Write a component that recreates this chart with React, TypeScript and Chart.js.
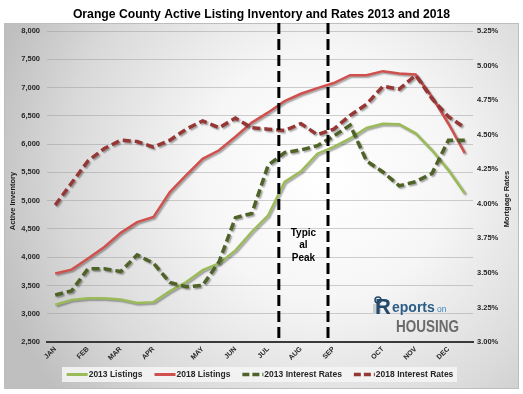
import React, { useEffect, useRef } from 'react';
import { Chart, registerables } from 'chart.js';

Chart.register(...registerables);

const FONT = '"Liberation Sans", Arial, Helvetica, sans-serif';

const TITLE = 'Orange County Active Listing Inventory and Rates 2013 and 2018';
const Y_TITLE = 'Active Inventory';
const Y1_TITLE = 'Mortgage Rates';

// 26 bi-weekly observations, month label on the first observation of each month
const MONTH_LABELS = [
  'JAN', '', 'FEB', '', 'MAR', '', 'APR', '', '', 'MAY', '', 'JUN', '', 'JUL',
  '', 'AUG', '', 'SEP', '', '', 'OCT', '', 'NOV', '', 'DEC', '',
];

const LISTINGS_2013 = [
  3160, 3245, 3275, 3275, 3250, 3190, 3205, 3400, 3560, 3770, 3890, 4120, 4450,
  4740, 5330, 5520, 5830, 5950, 6100, 6285, 6360, 6350, 6190, 5890, 5540, 5125,
];
const LISTINGS_2018 = [
  3710, 3780, 3975, 4180, 4430, 4620, 4710, 5150, 5450, 5740, 5890, 6130, 6380,
  6560, 6760, 6890, 6990, 7080, 7218, 7218, 7290, 7250, 7230, 6835, 6360, 5840,
];
const RATES_2013 = [
  3.34, 3.37, 3.53, 3.53, 3.51, 3.63, 3.57, 3.43, 3.40, 3.41, 3.58, 3.90, 3.93,
  4.28, 4.37, 4.39, 4.42, 4.49, 4.57, 4.31, 4.23, 4.13, 4.16, 4.22, 4.46, 4.46,
];
const RATES_2018 = [
  3.99, 4.15, 4.31, 4.40, 4.46, 4.45, 4.41, 4.46, 4.54, 4.60, 4.55, 4.62, 4.55,
  4.54, 4.53, 4.58, 4.50, 4.54, 4.64, 4.72, 4.85, 4.83, 4.93, 4.76, 4.63, 4.55,
];

const SERIES_NAMES = ['2013 Listings', '2018 Listings', '2013 Interest Rates', '2018 Interest Rates'];

const INVENTORY_MIN = 2500;
const INVENTORY_MAX = 8000;
const INVENTORY_STEP = 500;
const RATE_MIN = 3;
const RATE_MAX = 5.25;
const RATE_STEP = 0.25;

// fractional category positions of the "typical peak" window
const PEAK_BOUNDS = [13.65, 16.65];
const PEAK_TEXT = ['Typic', 'al', 'Peak'];

function catPixel(scale: any, v: number) {
  const i = Math.floor(v);
  const f = v - i;
  const a = scale.getPixelForValue(i);
  const b = scale.getPixelForValue(i + 1);
  return a + (b - a) * f;
}

const decor = {
  id: 'decor',
  beforeDraw(chart: any) {
    const ctx = chart.ctx;
    ctx.save();
    ctx.fillStyle = '#ffffff';
    ctx.fillRect(0, 0, chart.width, chart.height);
    const g = ctx.createRadialGradient(325, 175, 5, 325, 175, 345);
    g.addColorStop(0, '#ffffff');
    g.addColorStop(0.35, '#f6f6f6');
    g.addColorStop(0.75, '#d9d9d9');
    g.addColorStop(1, '#bfbfbf');
    ctx.fillStyle = g;
    ctx.fillRect(4, 23, 515, 366);
    ctx.strokeStyle = '#bdbdbd';
    ctx.lineWidth = 1;
    ctx.strokeRect(4.5, 23.5, 514, 365);

    ctx.fillStyle = '#000000';
    ctx.font = `bold 12.2px ${FONT}`;
    ctx.textAlign = 'center';
    ctx.textBaseline = 'alphabetic';
    ctx.fillText(TITLE, 261.5, 18);

    ctx.fillStyle = 'rgba(244,244,244,0.9)';
    ctx.fillRect(62, 367, 395, 15);
    ctx.restore();
  },
  beforeDatasetDraw(chart: any) {
    const ctx = chart.ctx;
    ctx.save();
    ctx.shadowColor = 'rgba(0,0,0,0.35)';
    ctx.shadowBlur = 1.5;
    ctx.shadowOffsetX = 1.5;
    ctx.shadowOffsetY = 1.5;
  },
  afterDatasetDraw(chart: any) {
    chart.ctx.restore();
  },
  afterDatasetsDraw(chart: any) {
    const ctx = chart.ctx;
    const xs = chart.scales.x;
    const area = chart.chartArea;
    ctx.save();
    ctx.strokeStyle = '#000000';
    ctx.lineWidth = 3;
    ctx.setLineDash([11, 5]);
    const px = PEAK_BOUNDS.map((v) => catPixel(xs, v));
    px.forEach((x) => {
      ctx.beginPath();
      ctx.moveTo(x, 23);
      ctx.lineTo(x, area.bottom);
      ctx.stroke();
    });
    ctx.setLineDash([]);
    ctx.fillStyle = '#000000';
    ctx.font = `bold 10px ${FONT}`;
    ctx.textAlign = 'center';
    ctx.textBaseline = 'middle';
    const cx = (px[0] + px[1]) / 2;
    PEAK_TEXT.forEach((t, i) => ctx.fillText(t, cx, 233 + i * 12.5));
    ctx.restore();
  },
  afterDraw(chart: any) {
    const ctx = chart.ctx;
    ctx.save();
    // axis titles
    ctx.fillStyle = '#1a1a1a';
    ctx.font = `bold 7.5px ${FONT}`;
    ctx.textAlign = 'center';
    ctx.textBaseline = 'middle';
    ctx.translate(13, 201);
    ctx.rotate(-Math.PI / 2);
    ctx.fillText(Y_TITLE, 0, 0);
    ctx.setTransform(1, 0, 0, 1, 0, 0);
    ctx.translate(507, 199);
    ctx.rotate(-Math.PI / 2);
    ctx.fillText(Y1_TITLE, 0, 0);
    ctx.setTransform(1, 0, 0, 1, 0, 0);

    // legend
    ctx.font = `bold 8.5px ${FONT}`;
    ctx.textAlign = 'left';
    ctx.textBaseline = 'middle';
    const sample = 21;
    const items = chart.data.datasets.map((d: any) => ({
      label: d.label,
      color: d.borderColor,
      dash: d.borderDash || [],
      w: ctx.measureText(d.label).width,
    }));
    const total = items.reduce((s: number, it: any) => s + sample + 1 + it.w, 0) + 12 * (items.length - 1);
    let x = 260 - total / 2;
    const ly = 374.5;
    items.forEach((it: any) => {
      ctx.strokeStyle = it.color;
      ctx.lineWidth = it.dash.length ? 3.5 : 3;
      ctx.setLineDash(it.dash.length ? [7, 3] : []);
      ctx.beginPath();
      ctx.moveTo(x, ly);
      ctx.lineTo(x + sample, ly);
      ctx.stroke();
      ctx.setLineDash([]);
      ctx.fillStyle = '#262626';
      ctx.fillText(it.label, x + sample + 1, ly);
      x += sample + 1 + it.w + 12;
    });

    // logo
    ctx.textBaseline = 'alphabetic';
    ctx.fillStyle = '#c9ced3';
    ctx.fillRect(373, 304, 8, 10);
    ctx.fillStyle = '#24496b';
    ctx.font = `bold 22px ${FONT}`;
    ctx.fillText('R', 375, 314);
    ctx.strokeStyle = '#24496b';
    ctx.lineWidth = 1.5;
    ctx.beginPath();
    ctx.arc(378, 300, 3, 0, Math.PI * 2);
    ctx.stroke();
    ctx.fillStyle = '#2b5d86';
    ctx.font = `bold 14px ${FONT}`;
    ctx.fillText('eports', 392, 312);
    ctx.fillStyle = '#3b86c0';
    ctx.font = `8.5px ${FONT}`;
    ctx.fillText('on', 437, 312);
    ctx.fillStyle = '#6b6b6b';
    ctx.font = `bold 17px ${FONT}`;
    const hw = ctx.measureText('HOUSING').width;
    ctx.translate(396, 332);
    ctx.scale(63 / hw, 1);
    ctx.fillText('HOUSING', 0, 0);
    ctx.restore();
  },
};

export default function App() {
  const ref = useRef<HTMLCanvasElement>(null);

  useEffect(() => {
    if (!ref.current) return;
    const tickFont = { family: FONT, size: 7.5, weight: 'bold' as const };
    const chart = new Chart(ref.current, {
      type: 'line',
      data: {
        labels: MONTH_LABELS,
        datasets: [
          {
            label: SERIES_NAMES[0],
            data: LISTINGS_2013,
            yAxisID: 'y',
            borderColor: '#9bbb59',
            backgroundColor: '#9bbb59',
            borderWidth: 2.5,
            pointRadius: 0,
            tension: 0,
            order: 3,
          },
          {
            label: SERIES_NAMES[1],
            data: LISTINGS_2018,
            yAxisID: 'y',
            borderColor: '#d0504d',
            backgroundColor: '#d0504d',
            borderWidth: 2.5,
            pointRadius: 0,
            tension: 0,
            order: 2,
          },
          {
            label: SERIES_NAMES[2],
            data: RATES_2013,
            yAxisID: 'y1',
            borderColor: '#4f6228',
            backgroundColor: '#4f6228',
            borderWidth: 3.5,
            borderDash: [8, 4],
            pointRadius: 0,
            tension: 0,
            order: 1,
          },
          {
            label: SERIES_NAMES[3],
            data: RATES_2018,
            yAxisID: 'y1',
            borderColor: '#953735',
            backgroundColor: '#953735',
            borderWidth: 3.5,
            borderDash: [8, 4],
            pointRadius: 0,
            tension: 0,
            order: 0,
          },
        ],
      },
      options: {
        responsive: false,
        animation: false,
        devicePixelRatio: 1,
        layout: { padding: { top: 31, bottom: 30, left: 0, right: 0 } },
        plugins: {
          legend: { display: false },
          title: { display: false },
          tooltip: { enabled: false },
        },
        scales: {
          x: {
            type: 'category',
            offset: true,
            grid: { display: false, drawTicks: false },
            border: { display: true, color: '#3a3a3a', width: 2 },
            ticks: {
              autoSkip: false,
              maxRotation: 45,
              minRotation: 45,
              padding: 3,
              color: '#262626',
              font: { family: FONT, size: 7, weight: 'bold' },
            },
            afterFit: (s: any) => {
              s.height = 22;
            },
          },
          y: {
            position: 'left',
            min: INVENTORY_MIN,
            max: INVENTORY_MAX,
            ticks: {
              stepSize: INVENTORY_STEP,
              padding: 7,
              color: '#262626',
              font: tickFont,
              callback: (v: any) => Number(v).toLocaleString('en-US'),
            },
            grid: { color: 'rgba(150,150,150,0.45)', lineWidth: 1, drawTicks: false },
            border: { display: false },
            afterFit: (s: any) => {
              s.width = 47;
            },
          },
          y1: {
            position: 'right',
            min: RATE_MIN,
            max: RATE_MAX,
            ticks: {
              stepSize: RATE_STEP,
              padding: 4,
              color: '#262626',
              font: tickFont,
              callback: (v: any) => Number(v).toFixed(2) + '%',
            },
            grid: { display: false, drawTicks: false },
            border: { display: false },
            afterFit: (s: any) => {
              s.width = 50;
            },
          },
        },
      },
      plugins: [decor],
    });
    return () => chart.destroy();
  }, []);

  return (
    <div style={{ position: 'absolute', left: 0, top: 0, width: 523, height: 394 }}>
      <canvas ref={ref} width={523} height={394} style={{ display: 'block' }} />
    </div>
  );
}
